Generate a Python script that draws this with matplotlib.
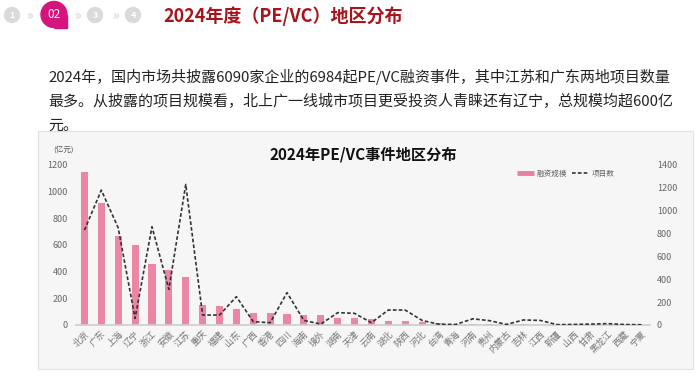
import matplotlib
matplotlib.use('Agg')
import matplotlib.pyplot as plt
from matplotlib.patches import Rectangle, Circle, Polygon
from matplotlib.lines import Line2D

plt.rcParams['font.family'] = ['Noto Sans CJK SC', 'DejaVu Sans']

# 数据
regions = ['北京', '广东', '上海', '辽宁', '浙江', '安徽', '江苏', '重庆', '福建', '山东',
           '广西', '香港', '四川', '海南', '境外', '湖南', '天津', '云南', '湖北', '陕西',
           '河北', '台湾', '青海', '河南', '贵州', '内蒙古', '吉林', '江西', '新疆', '山西',
           '甘肃', '黑龙江', '西藏', '宁夏']
amount = [1145, 918, 668, 603, 460, 413, 362, 152, 146, 118,
          90, 87, 80, 75, 72, 56, 52, 47, 33, 32,
          22, 17, 8, 5, 6, 3, 4, 3, 2, 2,
          2, 2, 1, 1]                      # 融资规模（亿元）
projects = [830, 1180, 850, 58, 860, 312, 1230, 87, 87, 248,
            29, 20, 283, 40, 8, 108, 102, 20, 131, 131,
            40, 6, 5, 54, 38, 5, 44, 40, 3, 5,
            8, 12, 4, 2]                   # 项目数
left_ticks = [0, 200, 400, 600, 800, 1000, 1200]
right_ticks = [0, 200, 400, 600, 800, 1000, 1200, 1400]

W, H = 700, 380
fig = plt.figure(figsize=(7, 3.8), dpi=100)
fig.patch.set_facecolor('white')

# 背景层（像素坐标）
bg = fig.add_axes([0, 0, 1, 1], zorder=-1)
bg.set_xlim(0, W)
bg.set_ylim(H, 0)
bg.axis('off')

# 顶部步骤标记
grey = '#dadada'
for cx, num in [(12, '1'), (95, '3'), (133, '4')]:
    bg.add_patch(Circle((cx, 15), 7.5, color=grey))
    bg.text(cx, 15.5, num, ha='center', va='center', fontsize=6.5, color='white', fontweight='bold')
for cx in [29, 77, 115]:
    bg.text(cx, 15, '»', ha='center', va='center', fontsize=10, color='#cfcfcf')
bg.add_patch(Circle((54, 14.5), 13, color='#d5157d'))
bg.add_patch(Polygon([(54, 27.5), (67, 27.5), (67, 14.5)], closed=True, color='#d5157d'))
bg.text(54, 15, '02', ha='center', va='center', fontsize=8.5, color='white')

bg.text(163, 16, '2024年度（PE/VC）地区分布', ha='left', va='center',
        fontsize=13, fontweight='bold', color='#a8141c')

# 段落
lines = ['2024年，国内市场共披露6090家企业的6984起PE/VC融资事件，其中江苏和广东两地项目数量',
         '最多。从披露的项目规模看，北上广一线城市项目更受投资人青睐还有辽宁，总规模均超600亿',
         '元。']
for i, s in enumerate(lines):
    bg.text(48, 77 + 24.5 * i, s, ha='left', va='center', fontsize=10.8, color='#222222')

# 图表面板
bg.add_patch(Rectangle((38, 131), 655, 238, facecolor='#f6f6f6', edgecolor='#e2e2e2', lw=0.8))
bg.text(363, 155, '2024年PE/VC事件地区分布', ha='center', va='center',
        fontsize=11, fontweight='bold', color='#111111')
bg.text(53, 150, '(亿元)', ha='left', va='center', fontsize=5.5, color='#555555')

# 主图
ax = fig.add_axes([76 / W, 1 - 325 / H, (650 - 76) / W, 160 / H])
ax.set_facecolor('none')
x = list(range(len(regions)))
ax.bar(x, amount, width=0.42, color='#ec86a5', zorder=2)
ax.set_xlim(-0.5, len(regions) - 0.5)
ax.set_ylim(0, 1200)
ax.set_yticks(left_ticks)
ax.set_xticks(x)
ax.set_xticklabels(regions, rotation=45, ha='right', rotation_mode='anchor')
ax.tick_params(axis='y', length=0, pad=6, labelsize=6.5, labelcolor='#666666')
ax.tick_params(axis='x', length=0, pad=3, labelsize=6.5, labelcolor='#777777')
for sp in ['top', 'left', 'right']:
    ax.spines[sp].set_visible(False)
ax.spines['bottom'].set_color('#cccccc')
ax.spines['bottom'].set_linewidth(1.2)

ax2 = ax.twinx()
ax2.plot(x, projects, color='#333333', ls=(0, (2.2, 1.3)), lw=1.2, zorder=3)
ax2.set_ylim(0, 1400)
ax2.set_yticks(right_ticks)
ax2.tick_params(axis='y', length=0, pad=5, labelsize=6.5, labelcolor='#666666')
for sp in ax2.spines.values():
    sp.set_visible(False)

handles = [Line2D([], [], color='#e8809f', lw=3.5, solid_capstyle='butt'),
           Line2D([], [], color='#333333', lw=1.2, ls=(0, (2.2, 1.3)))]
fig.legend(handles, ['融资规模', '项目数'], loc='center left',
           bbox_to_anchor=(510 / W, 1 - 174 / H), ncol=2, frameon=False,
           fontsize=5.5, labelcolor='#666666', handlelength=2.2,
           handletextpad=0.4, columnspacing=0.6)

fig.savefig('out.png', dpi=100)
